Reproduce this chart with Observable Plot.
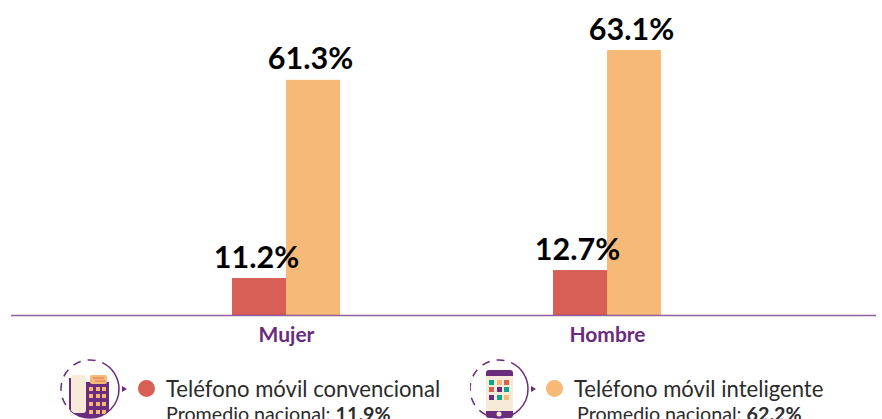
<!DOCTYPE html>
<html><head><meta charset="utf-8">
<script src="https://cdn.jsdelivr.net/npm/d3@7"></script>
<script src="https://cdn.jsdelivr.net/npm/@observablehq/plot@0.6"></script>
<style>
html,body{margin:0;padding:0;background:#fff;width:882px;height:419px;overflow:hidden;font-family:Lato,sans-serif}
#chart{position:absolute;left:0;top:0}
.leg{position:absolute;top:358px;height:80px}
.leg svg{position:absolute;left:0;top:0}
.dot{position:absolute;width:17px;height:17px;border-radius:50%}
.t1{position:absolute;white-space:nowrap;font-size:22.1px;color:#2b2b2b}
.t2{position:absolute;white-space:nowrap;font-size:19.7px;color:#2b2b2b}
</style></head><body>
<div id="chart"></div>
<div id="l1" class="leg" style="left:60px">
<svg width="72" height="62" viewBox="0 0 72 62">
<defs><clipPath id="c1"><circle cx="30" cy="31" r="29"/></clipPath></defs>
<circle cx="30" cy="31" r="29" fill="none" stroke="#6b2c7e" stroke-width="1.5" stroke-dasharray="67 7 8 7 8 7 8 7 8 7 8 7 39"/>
<path d="M62 28l5 3l-5 3z" fill="#6b2c7e"/>
<g clip-path="url(#c1)">
<rect x="9" y="20" width="3" height="42" fill="#6b2c7e"/>
<rect x="26" y="24" width="23" height="38" fill="#6b2c7e"/>
<rect x="9" y="52" width="40" height="10" fill="#6b2c7e"/>
<rect x="11" y="17" width="15" height="38" rx="3" fill="#f7ead8"/>
<rect x="30" y="17" width="17" height="9" rx="2" fill="#f7b977"/>
<path d="M33 20h11M35 23h10" stroke="#d75f55" stroke-width=".8"/>
<g fill="#f7b977"><rect x="29" y="29" width="4" height="4"/><rect x="36" y="29" width="4" height="4"/><rect x="42" y="29" width="4" height="4"/><rect x="29" y="36" width="4" height="4"/><rect x="36" y="36" width="4" height="4"/><rect x="42" y="36" width="4" height="4"/><rect x="29" y="44" width="4" height="4"/><rect x="36" y="44" width="4" height="4"/><rect x="42" y="44" width="4" height="4"/><rect x="29" y="52" width="4" height="4"/><rect x="36" y="52" width="4" height="4"/><rect x="42" y="52" width="4" height="4"/></g>
</g>
</svg>
<div class="dot" style="left:78px;top:22px;background:#d75f55"></div>
<div class="t1" style="left:106px;top:17px" id="a1"></div>
<div class="t2" style="left:106px;top:44px" id="b1"></div>
</div>
<div id="l2" class="leg" style="left:470px">
<svg width="72" height="62" viewBox="0 0 72 62">
<circle cx="29" cy="31" r="29" fill="none" stroke="#6b2c7e" stroke-width="1.5" stroke-dasharray="67 7 8 7 8 7 8 7 8 7 8 7 39"/>
<path d="M61 28l5 3l-5 3z" fill="#6b2c7e"/>
<rect x="16" y="12" width="27" height="48" rx="3" fill="#6b2c7e"/>
<rect x="16" y="18" width="27" height="35" fill="#f7ead8"/>
<circle cx="29" cy="56" r="2.5" fill="#f7ead8"/>
<rect x="19" y="22" width="5" height="5" fill="#0ba58a"/><rect x="27" y="22" width="5" height="5" fill="#f7b977"/><rect x="34" y="22" width="5" height="5" fill="#d75f55"/>
<rect x="19" y="29" width="5" height="5" fill="#d75f55"/><rect x="27" y="29" width="5" height="5" fill="#6b2c7e"/><rect x="34" y="29" width="5" height="5" fill="#0ba58a"/>
<rect x="19" y="37" width="5" height="5" fill="#6b2c7e"/><rect x="27" y="37" width="5" height="5" fill="#0ba58a"/><rect x="34" y="37" width="5" height="5" fill="#f7b977"/>
</svg>
<div class="dot" style="left:76px;top:22px;background:#f7b977"></div>
<div class="t1" style="left:104px;top:17px" id="a2"></div>
<div class="t2" style="left:107px;top:44px" id="b2"></div>
</div>
<script>
const categories = ["Mujer", "Hombre"];
const seriesNames = ["Teléfono móvil convencional", "Teléfono móvil inteligente"];
const seriesColors = ["#d75f55", "#f7b977"];
const printedConvencional = [11.2, 12.7];
const printedInteligente = [61.3, 63.1];
// Bar lengths as drawn in the picture (it is not proportional to the printed labels)
const drawnConvencional = [8.8, 10.7];
const drawnInteligente = [56, 63.1];
const nationalAverage = ["11.9%", "62.2%"];
const nationalLabel = "Promedio nacional: ";

const rows = categories.flatMap((c, i) => [
  {cat: c, serie: seriesNames[0], drawn: drawnConvencional[i], printed: printedConvencional[i]},
  {cat: c, serie: seriesNames[1], drawn: drawnInteligente[i], printed: printedInteligente[i]}
]);
const purple = "#6b2c7e";
const plot = Plot.plot({
  width: 882, height: 345,
  marginTop: 50, marginBottom: 30, marginLeft: 11, marginRight: 6,
  style: {background: "transparent", overflow: "visible"},
  fx: {domain: categories, paddingInner: 0.6636, paddingOuter: 0.679, align: 0.507, label: null},
  x: {domain: seriesNames, padding: 0, axis: null},
  y: {domain: [0, 63.1], axis: null},
  color: {domain: seriesNames, range: seriesColors},
  marks: [
    Plot.barY(rows.filter(d => d.serie === seriesNames[1]), {fx: "cat", x: "serie", y: "drawn", fill: "serie",
      style: {filter: "drop-shadow(10px 6px 9px rgba(0,0,0,.16))"}}),
    Plot.barY(rows.filter(d => d.serie === seriesNames[0]), {fx: "cat", x: "serie", y: "drawn", fill: "serie"}),
    Plot.axisFx({anchor: "bottom", label: null, tickSize: 0, tickPadding: 12, fontSize: 21, fontWeight: 700, fill: purple, fontFamily: "Lato", style: {letterSpacing: "0.7px"}}),
    Plot.ruleY(rows.filter(d => d.cat === categories[0] && d.serie === seriesNames[0]), {fx: "cat", y: () => 0, stroke: purple, strokeOpacity: 0.75, strokeWidth: 1.7, insetLeft: -221, insetRight: -536}),
    Plot.text(rows, {fx: "cat", x: "serie", y: "drawn", text: d => d.printed.toFixed(1) + "%", lineAnchor: "bottom", dy: -11, dx: -3,
      fontSize: 30.5, fontWeight: 700, fill: "#000", fontFamily: "Lato", style: {letterSpacing: "3.6px"}})
  ]
});
document.getElementById("chart").append(plot);
document.getElementById("a1").textContent = seriesNames[0];
document.getElementById("a2").textContent = seriesNames[1];
document.getElementById("b1").innerHTML = nationalLabel + "<b>" + nationalAverage[0] + "</b>";
document.getElementById("b2").innerHTML = nationalLabel + "<b>" + nationalAverage[1] + "</b>";
</script>
</body></html>
